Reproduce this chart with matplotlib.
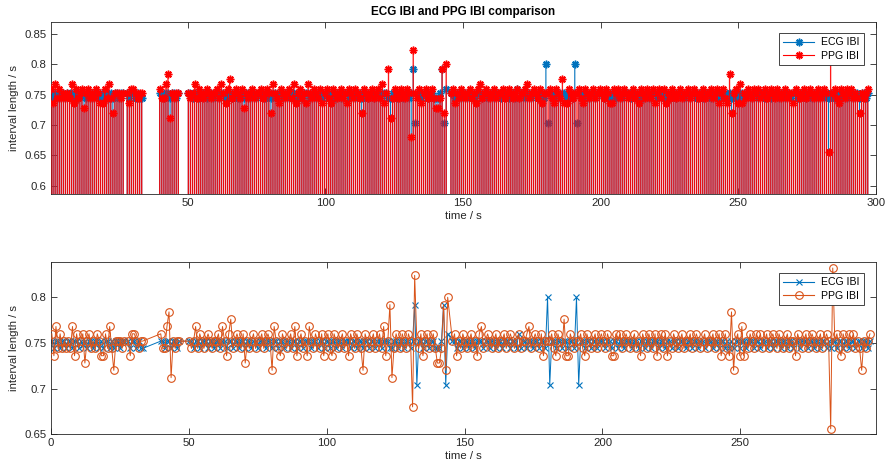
import numpy as np
import matplotlib
matplotlib.use("Agg")
import matplotlib.pyplot as plt
from matplotlib.lines import Line2D
from matplotlib.ticker import FuncFormatter

plt.rcParams['font.family'] = ['Liberation Sans', 'DejaVu Sans']

# ---------------- data (IBI values in ms, per continuous recording segment) ----------------
seg_start = [0.3, 28.0, 39.8, 50.2, 145.6]   # time of first beat of each segment / s

ecg_seg1 = [752, 744, 752, 752, 744, 752, 752, 744, 752, 752, 744, 752, 752, 744, 752, 748, 752, 744,
            752, 752, 744, 752, 752, 744, 752, 744, 752, 752, 744, 752, 744, 752, 752, 744, 752, 752]
ppg_seg1 = [760, 736, 768, 744, 760, 744, 752, 744, 752, 744, 768, 736, 760, 744, 752, 760, 728, 752,
            760, 744, 752, 744, 760, 752, 736, 736, 760, 744, 768, 744, 720, 752, 752, 752, 744, 752]

ecg_seg2 = [752, 744, 752, 752, 744, 752, 744, 744]
ppg_seg2 = [752, 736, 760, 760, 752, 744, 752, 752]

ecg_seg3 = [752, 752, 744, 752, 752, 744, 752, 752, 744, 752]
ppg_seg3 = [760, 744, 744, 768, 784, 712, 752, 744, 752, 752]

ecg_seg4 = [752, 752, 744, 752, 752, 744, 752, 752, 752, 744,
            752, 752, 744, 752, 752, 744, 752, 752, 744, 752,
            752, 744, 752, 752, 744, 752, 752, 744, 752, 752,
            744, 752, 752, 744, 752, 752, 752, 744, 752, 752,
            744, 752, 752, 744, 752, 752, 744, 752, 752, 744,
            752, 752, 744, 752, 752, 744, 752, 752, 752, 744,
            752, 752, 744, 752, 752, 744, 752, 752, 744, 752,
            752, 744, 752, 752, 744, 752, 752, 752, 744, 752,
            752, 744, 752, 752, 744, 752, 752, 744, 752, 752,
            744, 752, 752, 744, 752, 752, 752, 744, 744, 752,
            752, 744, 752, 752, 744, 752, 752, 744, 752, 792,
            704, 752, 752, 744, 752, 752, 744, 752, 752, 744,
            744, 744, 752, 792, 704, 760]
ppg_seg4 = [752, 744, 752, 768, 744, 760, 752, 744, 752, 760,
            752, 744, 752, 752, 760, 744, 768, 752, 736, 760,
            776, 744, 752, 760, 752, 744, 760, 728, 752, 744,
            752, 760, 744, 752, 752, 760, 744, 752, 760, 752,
            720, 768, 752, 744, 736, 760, 752, 744, 752, 760,
            744, 768, 736, 752, 760, 744, 752, 736, 768, 752,
            744, 760, 752, 744, 760, 736, 752, 760, 744, 736,
            760, 752, 744, 752, 760, 744, 752, 736, 760, 752,
            744, 760, 752, 744, 720, 760, 752, 744, 752, 760,
            744, 752, 760, 744, 768, 736, 752, 792, 712, 744,
            760, 752, 744, 760, 752, 744, 760, 752, 680, 824,
            752, 744, 760, 736, 752, 760, 744, 752, 760, 744,
            728, 728, 744, 792, 720, 800]

ecg_seg5 = [752, 752, 744, 752, 752, 744, 752, 752, 744, 752,
            752, 744, 752, 752, 752, 744, 752, 752, 744, 752,
            752, 744, 752, 752, 744, 752, 752, 752, 744, 752,
            752, 744, 760, 744, 752, 752, 744, 752, 752, 744,
            752, 752, 744, 752, 752, 744, 800, 704, 752, 752,
            744, 752, 752, 744, 752, 752, 744, 752, 752, 744,
            800, 704, 752, 752, 744, 752, 752, 744, 752, 752,
            744, 752, 752, 752, 744, 752, 752, 744, 752, 752,
            744, 752, 752, 744, 752, 752, 752, 744, 752, 752,
            744, 752, 752, 744, 752, 752, 744, 752, 752, 752,
            744, 752, 752, 744, 752, 752, 744, 752, 752, 744,
            752, 752, 752, 744, 752, 752, 744, 752, 752, 744,
            752, 752, 744, 752, 752, 752, 744, 752, 752, 744,
            752, 752, 744, 752, 744, 752, 744, 752, 752, 744,
            752, 752, 744, 752, 752, 752, 744, 752, 752, 744,
            752, 752, 744, 752, 752, 744, 752, 752, 752, 744,
            752, 752, 744, 752, 752, 744, 752, 752, 744, 752,
            752, 752, 744, 752, 752, 744, 752, 752, 744, 752,
            752, 744, 752, 744, 752, 752, 744, 752, 752, 744,
            752, 752, 744, 752, 752, 744, 752, 752, 744, 752,
            752, 744, 752]
ppg_seg5 = [752, 760, 736, 752, 744, 760, 752, 744, 752, 760,
            744, 752, 736, 760, 768, 744, 752, 760, 752, 744,
            752, 760, 744, 752, 752, 760, 744, 752, 760, 752,
            744, 752, 760, 744, 752, 752, 760, 768, 744, 752,
            760, 752, 744, 760, 736, 752, 752, 752, 760, 744,
            736, 760, 752, 744, 776, 736, 736, 760, 752, 744,
            752, 752, 760, 744, 736, 760, 752, 744, 752, 760,
            744, 752, 760, 752, 744, 760, 752, 736, 736, 760,
            752, 760, 744, 752, 760, 752, 744, 752, 760, 744,
            752, 736, 760, 752, 744, 760, 752, 744, 760, 736,
            752, 760, 744, 760, 736, 752, 744, 760, 752, 744,
            752, 760, 744, 752, 752, 760, 744, 752, 760, 752,
            744, 752, 760, 744, 752, 752, 760, 744, 752, 760,
            736, 752, 760, 744, 736, 784, 720, 752, 760, 736,
            768, 736, 752, 744, 760, 752, 744, 760, 752, 760,
            744, 752, 760, 744, 752, 760, 752, 744, 760, 752,
            744, 752, 760, 744, 752, 752, 736, 760, 752, 744,
            752, 760, 744, 752, 760, 752, 744, 752, 760, 744,
            752, 760, 752, 656, 832, 752, 760, 744, 736, 760,
            752, 744, 760, 752, 760, 744, 752, 744, 720, 752,
            744, 752, 760]

ecg_segments = [ecg_seg1, ecg_seg2, ecg_seg3, ecg_seg4, ecg_seg5]
ppg_segments = [ppg_seg1, ppg_seg2, ppg_seg3, ppg_seg4, ppg_seg5]

title = "ECG IBI and PPG IBI comparison"
xlabel = "time / s"
ylabel = "interval length / s"
labels = ["ECG IBI", "PPG IBI"]

# beat times: each segment starts at seg_start and advances by the ECG intervals
t_list, ecg_list, ppg_list = [], [], []
for s0, e, p in zip(seg_start, ecg_segments, ppg_segments):
    e = np.asarray(e, float) / 1000.0
    p = np.asarray(p, float) / 1000.0
    t_list.append(s0 + np.concatenate([[0.0], np.cumsum(e[:-1])]))
    ecg_list.append(e)
    ppg_list.append(p)
t = np.concatenate(t_list)
ecg = np.concatenate(ecg_list)
ppg = np.concatenate(ppg_list)

# ---------------- styling ----------------
BLUE = '#0072BD'
RED = '#FF0000'
ORANGE = '#D95319'
AXC = '#262626'
fs = 8.2
lfs = 7.6

W, H = 887, 471
fig = plt.figure(figsize=(W / 100, H / 100), dpi=100)
fig.patch.set_facecolor('white')

ax1 = fig.add_axes([51 / W, 1 - 194 / H, 825 / W, 172 / H])
ax2 = fig.add_axes([51 / W, 1 - 434.3 / H, 825 / W, 172.3 / H])

aster = (8, 2, 0)
msz, mew = 5.5, 1.1

# top: stem plots
lc_b = ax1.vlines(t, 0, ecg, colors=BLUE, linewidth=0.8, zorder=2)
lc_b.set_snap(False)
ax1.plot(t, ecg, linestyle='none', marker=aster, markersize=msz, markeredgewidth=mew,
         markeredgecolor=BLUE, color=BLUE, zorder=2.5)
lc_r = ax1.vlines(t, 0, ppg, colors=RED, linewidth=0.95, alpha=0.9, zorder=3)
lc_r.set_snap(False)
ax1.plot(t, ppg, linestyle='none', marker=aster, markersize=msz, markeredgewidth=mew,
         markeredgecolor=RED, color=RED, zorder=3.5)

ax1.set_xlim(0.3, 300)
ax1.set_ylim(0.586, 0.870)
ax1.set_xticks([50, 100, 150, 200, 250, 300])
ax1.set_yticks([0.6, 0.65, 0.7, 0.75, 0.8, 0.85])

h1 = [Line2D([0, 1], [0, 0], color=BLUE, lw=0.8, marker=aster, markersize=msz, markeredgewidth=mew,
             markevery=[1], markeredgecolor=BLUE),
      Line2D([0, 1], [0, 0], color=RED, lw=0.8, marker=aster, markersize=msz, markeredgewidth=mew,
             markevery=[1], markeredgecolor=RED)]

# bottom: line plots
ax2.plot(t, ecg, color=BLUE, lw=0.7, marker='x', markersize=4, markeredgewidth=0.8, zorder=2)
ax2.plot(t, ppg, color=ORANGE, lw=0.7, marker='o', markersize=5.5, markerfacecolor='none',
         markeredgewidth=0.8, zorder=3)
ax2.set_xlim(0, 299.2)
ax2.set_ylim(0.65, 0.8386)
ax2.set_xticks([0, 50, 100, 150, 200, 250])
ax2.set_yticks([0.65, 0.7, 0.75, 0.8])

h2 = [Line2D([0], [0], color=BLUE, lw=0.8, marker='x', markersize=4, markeredgewidth=0.8),
      Line2D([0], [0], color=ORANGE, lw=0.8, marker='o', markersize=5.5, markerfacecolor='none',
             markeredgewidth=0.8)]

fmt = FuncFormatter(lambda v, p: f"{v:g}")
for ax, hs in [(ax1, h1), (ax2, h2)]:
    for sp in ax.spines.values():
        sp.set_color(AXC)
        sp.set_linewidth(0.6)
    ax.tick_params(direction='in', length=4, width=0.6, colors=AXC, labelsize=fs,
                   top=True, right=True, pad=3)
    ax.xaxis.set_major_formatter(fmt)
    ax.yaxis.set_major_formatter(fmt)
    ax.set_xlabel(xlabel, fontsize=fs, color=AXC, labelpad=2)
    ax.set_ylabel(ylabel, fontsize=fs, color=AXC, labelpad=4)
    leg = ax.legend(hs, labels, loc='upper right', bbox_to_anchor=(0.9855, 0.935), fontsize=lfs,
                    frameon=True, fancybox=False, edgecolor=AXC, framealpha=1,
                    handlelength=2.9, handletextpad=0.7, borderpad=0.4, labelspacing=0.3,
                    borderaxespad=0)
    leg.get_frame().set_linewidth(0.6)
    leg.set_zorder(10)

ax1.set_title(title, fontsize=fs + 0.3, fontweight='bold', color='black', pad=5)

fig.savefig('out.png', dpi=100, facecolor='white')
